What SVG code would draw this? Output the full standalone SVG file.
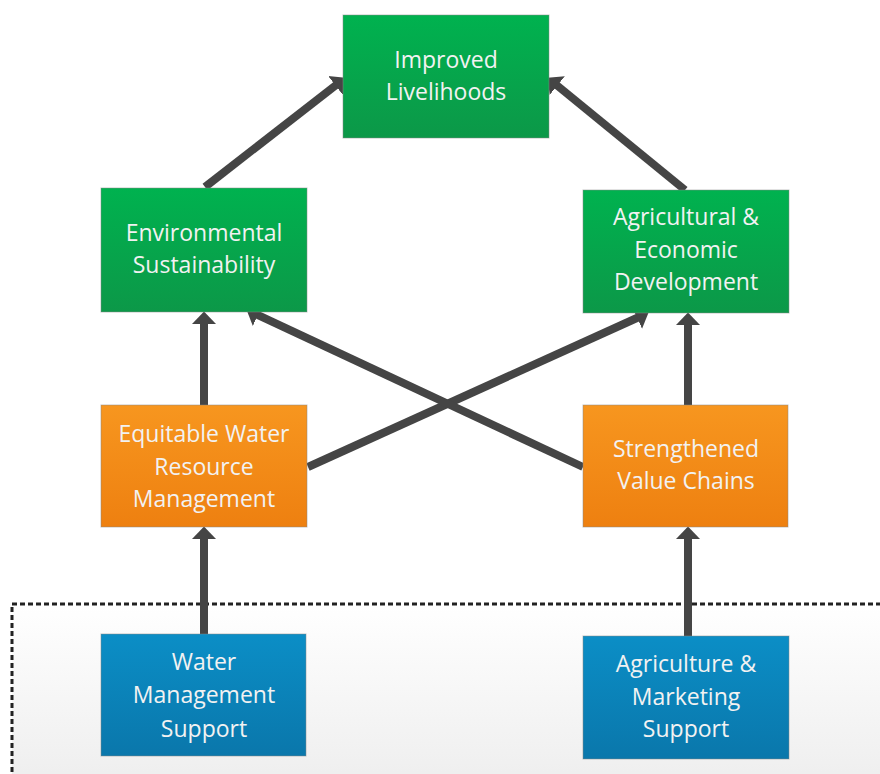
<svg xmlns="http://www.w3.org/2000/svg" width="880" height="774" viewBox="0 0 880 774">
<defs>
<linearGradient id="gGreen" x1="0" y1="0" x2="0" y2="1"><stop offset="0" stop-color="#00b24f"/><stop offset="1" stop-color="#0c9848"/></linearGradient>
<linearGradient id="gOrange" x1="0" y1="0" x2="0" y2="1"><stop offset="0" stop-color="#f7961f"/><stop offset="1" stop-color="#ee8010"/></linearGradient>
<linearGradient id="gBlue" x1="0" y1="0" x2="0" y2="1"><stop offset="0" stop-color="#0b8ec6"/><stop offset="1" stop-color="#0a77ab"/></linearGradient>
<linearGradient id="gBg" x1="0" y1="0" x2="0" y2="1"><stop offset="0" stop-color="#ffffff"/><stop offset="1" stop-color="#ececec"/></linearGradient>
<marker id="ah" markerUnits="userSpaceOnUse" markerWidth="14" markerHeight="26" viewBox="0 0 14 26" refX="1" refY="13" orient="auto">
<path d="M0,1 L12.5,13 L0,25 z" fill="#454545"/>
</marker>
<style>
.box{stroke:#8a8a8a;stroke-opacity:0.5;stroke-width:1}
.g{fill:url(#gGreen)}
.o{fill:url(#gOrange)}
.b{fill:url(#gBlue)}
.t{font-family:"Open Sans","Noto Sans",sans-serif;font-size:23px;fill:#f2f2f2;text-anchor:middle}
.c{stroke:#454545;stroke-width:8;fill:none;marker-end:url(#ah)}
</style>
</defs>
<rect x="12" y="604" width="880" height="200" fill="url(#gBg)" stroke="#222" stroke-width="3" stroke-dasharray="5,3"/>
<g id="connectors">
<line class="c" x1="205" y1="187" x2="336.3" y2="84.8"/>
<line class="c" x1="685" y1="190" x2="556.5" y2="85"/>
<line class="c" x1="204" y1="405" x2="204" y2="323"/>
<line class="c" x1="688" y1="405" x2="688" y2="324"/>
<line class="c" x1="308" y1="467" x2="638" y2="317.5"/>
<line class="c" x1="583" y1="467" x2="257" y2="314.7"/>
<line class="c" x1="204" y1="634" x2="204" y2="538"/>
<line class="c" x1="688" y1="636" x2="688" y2="538"/>
</g>
<g id="improved">
<rect class="box g" x="343" y="15" width="206" height="123"/>
<text class="t" x="446" y="68">Improved</text>
<text class="t" x="446" y="100">Livelihoods</text>
</g>
<g id="environmental">
<rect class="box g" x="101" y="188" width="206" height="124"/>
<text class="t" x="204" y="241">Environmental</text>
<text class="t" x="204" y="273">Sustainability</text>
</g>
<g id="agri-econ">
<rect class="box g" x="583" y="190" width="206" height="123"/>
<text class="t" x="686" y="225">Agricultural &amp;</text>
<text class="t" x="686" y="258">Economic</text>
<text class="t" x="686" y="290">Development</text>
</g>
<g id="equitable">
<rect class="box o" x="101" y="405" width="206" height="122"/>
<text class="t" x="204" y="442">Equitable Water</text>
<text class="t" x="204" y="475">Resource</text>
<text class="t" x="204" y="507">Management</text>
</g>
<g id="strengthened">
<rect class="box o" x="583" y="405" width="205" height="122"/>
<text class="t" x="686" y="457">Strengthened</text>
<text class="t" x="686" y="489">Value Chains</text>
</g>
<g id="water-support">
<rect class="box b" x="101" y="634" width="205" height="122"/>
<text class="t" x="204" y="670">Water</text>
<text class="t" x="204" y="703">Management</text>
<text class="t" x="204" y="737">Support</text>
</g>
<g id="agri-support">
<rect class="box b" x="583" y="636" width="206" height="123"/>
<text class="t" x="686" y="672">Agriculture &amp;</text>
<text class="t" x="686" y="705">Marketing</text>
<text class="t" x="686" y="737">Support</text>
</g>
</svg>
